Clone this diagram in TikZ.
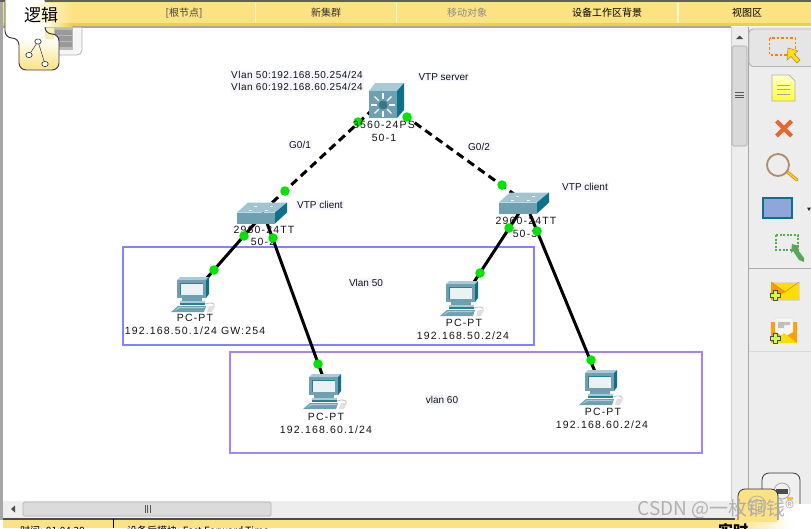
\documentclass[tikz,border=0pt]{standalone}
\usepackage{fontspec}
\setmainfont{Liberation Sans}
\newfontfamily\cjkf{Noto Sans CJK SC}
\newfontfamily\devf[LetterSpace=11]{Liberation Sans}
\newfontfamily\notef[LetterSpace=5]{Liberation Sans}
\usetikzlibrary{calc}
\definecolor{barY}{HTML}{FBE283}
\definecolor{barD}{HTML}{EFCF45}
\definecolor{teal1}{HTML}{6FA0B2}
\definecolor{teal2}{HTML}{0F7089}
\definecolor{teal3}{HTML}{A9CBD7}
\definecolor{panel}{HTML}{EDEDED}
\definecolor{lab}{HTML}{F6F7FE}
\definecolor{boxA}{HTML}{8282FF}
\definecolor{boxB}{HTML}{A484F8}
\definecolor{xorange}{HTML}{E9662C}
\tikzset{
 devlab/.style={font=\devf\fontsize{10.5}{12}\selectfont,inner sep=0pt,text=black!92},
 notelab/.style={font=\notef\fontsize{10}{12}\selectfont,inner sep=1pt,fill=lab,text=black!92},
 plainlab/.style={font=\fontsize{10}{12}\selectfont,inner sep=1pt,fill=lab,text=black!92},
 tablab/.style={font=\cjkf\fontsize{10}{12}\selectfont,inner sep=0pt},
 link/.style={line width=3pt,black},
 dashlink/.style={line width=3pt,black,dash pattern=on 8pt off 5pt},
 dot/.style={circle,fill=green!90!black,draw=none,inner sep=0pt,minimum size=9.5pt},
 vlanA/.style={draw=boxA,line width=1.4pt},
 vlanB/.style={draw=boxB,line width=1.4pt},
 pcicon/.pic={
  \fill[teal3] (0,3)--(3,0)--(32,0)--(29,3)--cycle;
  \fill[teal2] (29,3)--(32,0)--(32,17)--(29,21)--cycle;
  \fill[teal1] (0,3) rectangle (29,21);
  \fill[teal2!70!teal1] (3,6) rectangle (26,18);
  \fill[white!75!teal3] (4,7) rectangle (26,18);
  \fill[teal1] (5,21) rectangle (25,24);
  \fill[teal2!70!teal1] (3,24) rectangle (28,28);
  \fill[teal3] (3,24) rectangle (28,25.5);
  \fill[teal1] (-6,35)--(1,29)--(29,29)--(27,35)--cycle;
  \fill[teal3] (-3,34)--(2,30)--(28,30)--(26,31)--(3,31)--cycle;
  \draw[gray!50,line width=.8pt] (28,27) .. controls (34,25) and (38,26) .. (37,29);
  \fill[gray!25] (32,29)--(38,29)--(35,35)--(30,35)--cycle;
 },
 swicon/.pic={
  \fill[teal3!85!teal1] (0,10)--(11,0)--(50,0)--(38,10)--cycle;
  \fill[teal2] (38,10)--(50,0)--(50,10)--(38,21)--cycle;
  \fill[teal1] (0,10) rectangle (38,21);
  \foreach \a/\b in {17/3,33/3,12/7,28/7}{\fill[white] (\a,\b) rectangle ++(3,1);}
 },
 plusmark/.pic={
  \fill[green!30!yellow!70!white,draw=gray!60!black,line width=.5pt]
   (-1.8,-5)--(1.8,-5)--(1.8,-1.8)--(5,-1.8)--(5,1.8)--(1.8,1.8)--(1.8,5)--(-1.8,5)--(-1.8,1.8)--(-5,1.8)--(-5,-1.8)--(-1.8,-1.8)--cycle;
 },
}
\begin{document}
\begin{tikzpicture}[x=1pt,y=-1pt]
\useasboundingbox (0,0) rectangle (811,528);
\clip (0,0) rectangle (811,528);
\fill[white] (0,0) rectangle (811,528);
% window frame
\fill[gray!75!black] (0,0) rectangle (811,2);
\fill[gray!70] (0,2) rectangle (3,520);
\fill[gray!70] (3,26) rectangle (731,27.5);
% top bar
\fill[barY] (3,2) rectangle (811,23);
\fill[barD] (3,23) rectangle (811,26);
\foreach \x in {254.5,395.5,677}{\fill[white!70!barY] (\x,3) rectangle ++(1.5,20);}
\node[tablab,text=black!75] (root) at (184,13) {[根节点]};
\node[tablab,text=black!80] (cluster) at (326,13) {新集群};
\node[tablab,text=black!45] (move) at (467,13) {移动对象};
\node[tablab] (bg) at (607,13) {设备工作区背景};
\node[tablab] (view) at (747,13) {视图区};
% server tab behind
\fill[white!93!gray,draw=gray!60,line width=.8pt,rounded corners=5pt] (45,27.5) -- (45,55) -- (82,55) -- (82,27.5);
\fill[gray!55] (54,28) rectangle (73,50);
\foreach \y in {30,36,42}{\fill[gray!80] (55,\y) rectangle (72,\y+4.5);}
% logic tab
\fill[white,rounded corners=7pt] (5,-4) -- (5,38) -- (19,38) -- (19,70) -- (59,70) -- (59,34) -- (45,34) -- (45,-4) -- cycle;
\shade[top color=white,bottom color=barY,rounded corners=6pt] (19.5,38) rectangle (58.5,69.5);
\shade[top color=white!45!barY,bottom color=white!30!barY] (45.4,28) rectangle (54,38);
\shade[left color=white,right color=barY] (30,3) rectangle (72,23);
\shade[left color=white,right color=barD] (44,23) rectangle (72,26);
\fill[white] (6,2.5) rectangle (30,26);
\fill[white] (30,23) rectangle (44,38);
\draw[gray!40!black,line width=.9pt,rounded corners=7pt] (5,2) -- (5,38) -- (19,38) -- (19,70) -- (59,70) -- (59,34) -- (45,34) -- (45,27);
\node[font=\cjkf\fontsize{17}{18}\selectfont,inner sep=0pt] (logic) at (41,15.5) {逻辑};
\draw[gray!40!black,line width=.5pt] (38,41.5) -- (29,55) (38,41.5) -- (45,64);
\foreach \a/\b in {38/41.5,29/55,45/64}{\draw[gray!40!black,fill=white,line width=.6pt] (\a,\b) ellipse (3.2 and 2.6);}
% right panel
\fill[panel] (748,27) rectangle (811,520);
\draw[gray!70,line width=.8pt] (748,27) -- (748,518);
\fill[panel] (731,27) rectangle (748,501);
\draw[gray!40,line width=.5pt] (731,27) -- (731,501);
\draw[gray!70,fill=gray!30,rounded corners=1.5pt,line width=.6pt] (732,46) rectangle (747,146);
\foreach \y in {92.5,95,97.5}{\draw[gray!70!black,line width=.6pt] (735,\y) -- (744,\y);}
\fill[black!70] (736,39)--(743,39)--(739.5,35.5)--cycle;
% select tool
\fill[gray!20,draw=gray!60,line width=.9pt,rounded corners=4pt] (749,29) rectangle (816,66.5);
\draw[orange,line width=1.5pt,dash pattern=on 2.5pt off 2pt] (769.5,38) rectangle (795.5,55);
\fill[yellow!85!orange,draw=gray!60!orange,line width=.5pt] (788,48)--(787,60)--(791,56.5)--(797,63)--(800,60)--(794,54)--(798,51)--cycle;
% note
\shade[top color=yellow!20,bottom color=yellow!80,draw=gray!60,line width=.7pt] (772,75)--(789,75)--(795,81)--(795,101)--(772,101)--cycle;
\draw[gray!70,line width=.7pt] (777,85)--(790,85) (777,89.5)--(790,89.5) (777,94)--(790,94);
% delete
\draw[xorange,line width=4pt] (776.5,121)--(791.5,136) (791.5,121)--(776.5,136);
% inspect
\draw[orange!60!gray,line width=3pt,line cap=round] (785,170) -- (797,180);
\draw[yellow!70!orange,line width=1.6pt,line cap=round] (786,170.8) -- (797,180);
\draw[brown!60!gray!90,line width=1.8pt,fill=panel] (778,165) circle (11pt);
% rect
\fill[cyan!40!blue!45!white,draw=teal2,line width=1.4pt] (763,198) rectangle (792,218);
\fill[black!85] (807,207.5)--(811,207.5)--(809,211)--cycle;
% resize
\draw[green!40!gray,line width=1.2pt,dash pattern=on 2pt off 1.6pt] (776,235) rectangle (798,250);
\fill[green!30!gray] (792,244)--(799,246)--(798,250)--(804,258)--(804,262)--(799,260)--(793,251)--(791,253)--cycle;
\draw[gray!65,line width=.7pt] (749,268.5)--(811,268.5);
% envelopes
\fill[yellow!80!orange,draw=gray!30] (771,282) rectangle (799,300);
\fill[orange!80!yellow] (771,282)--(785,292)--(771,300)--cycle;
\draw[orange!70!gray,line width=.5pt] (771,282)--(785,292)--(799,282);
\pic at (775,295) {plusmark};
\fill[orange!75!yellow] (771,322) rectangle (797,343);
\fill[white!93!gray,draw=gray!40] (775,318)--(793,318)--(793,332)--(784,337)--(775,332)--cycle;
\fill[gray!50] (778,322) rectangle (790,325) (778,325) rectangle (784,328);
\fill[yellow!80!orange] (771,343)--(784,333)--(797,343)--cycle;
\pic at (775,338) {plusmark};
\draw[gray!30,line width=.6pt] (749,351.5)--(811,351.5);
% bottom scrollbar
\fill[panel] (3,501) rectangle (748,518);
\draw[gray!60,fill=gray!28,rounded corners=1.5pt,line width=.7pt] (23,502) rectangle (271,516);
\foreach \x in {145,147.5,150}{\draw[gray!70!black,line width=.6pt] (\x,505) -- (\x,513);}
\fill[black!70] (11,509)--(15,505.5)--(15,512.5)--cycle;
% status bar
\fill[gray!60!black] (3,518) rectangle (811,520);
\fill[barY] (3,520) rectangle (811,528);
\draw[black,line width=1pt] (113,519) -- (113,528);
\node[font=\cjkf\fontsize{10}{12}\selectfont,anchor=west,inner sep=0pt] (tm) at (20,531) {时间: 01:04:29};
\node[font=\cjkf\fontsize{10}{12}\selectfont,anchor=west,inner sep=0pt] (ff) at (127,531) {设备后模块: Fast Forward Time};
% right-bottom tabs
\fill[gray!12,draw=gray!40!black,line width=.8pt,rounded corners=7pt] (762,518)--(762,473)--(800,473)--(800,518);
\draw[gray!70,line width=.8pt] (782,491) circle (8pt);
\fill[gray!60!black] (776,489) rectangle (788,494);
\fill[yellow!60!orange] (787,497) rectangle (793,500);
\fill[white] (778,504) -- (811,504) -- (811,528) -- (778,528) -- cycle;
\shade[left color=barY,right color=white] (735,518) rectangle (790,528);
\fill[barY,draw=gray!40!black,line width=.8pt,rounded corners=7pt] (738,520)--(738,489)--(778,489)--(778,520);
\fill[barY] (739,515) rectangle (777,522);
\draw[gray!60,line width=.8pt] (757,505) circle (9pt);
\draw[gray!60,line width=.8pt] (757,505) circle (5.5pt);
\node[font=\cjkf\bfseries\fontsize{15}{16}\selectfont,inner sep=0pt,anchor=base] (rt) at (733,536) {实时};
% vlan boxes
\draw[vlanA] (123,247) rectangle (534,345);
\draw[vlanB] (230,352) rectangle (702,453);
% anchors for links
\coordinate (core) at (383,100);
\coordinate (swA) at (262,212);
\coordinate (swB) at (518,197);
\coordinate (pcA) at (206,279);
\coordinate (pcB) at (474,282);
\coordinate (pcC) at (326,385);
\coordinate (pcD) at (598,379);
\coordinate (swAa) at (264,213);
\coordinate (swAb) at (267,223);
\coordinate (swBa) at (519,213);
\coordinate (swBb) at (530,214);
% links
\draw[dashlink] (core) -- (swA);
\draw[dashlink] (core) -- (swB);
\draw[link] (swAa) -- (pcA);
\draw[link] (swAb) -- (pcC);
\draw[link] (swBa) -- (pcB);
\draw[link] (swBb) -- (pcD);
% devices
\pic at (237,202.5) {swicon};
\pic at (499,192.5) {swicon};
\pic at (177,277) {pcicon};
\pic at (446,281) {pcicon};
\pic at (309,374) {pcicon};
\pic at (585,370) {pcicon};
% core switch
\fill[teal3] (369,91)--(375,83)--(404,83)--(397,91)--cycle;
\fill[teal2] (397,91)--(404,83)--(404,110)--(397,118)--cycle;
\fill[teal1] (369,91) rectangle (397,118);
\foreach \t in {0,45,...,315}{\draw[white,line width=1.3pt] ($(383,105)+(\t:6)$) -- ($(383,105)+(\t:12)$);}
\fill[teal2!60!gray] (383,105) circle (4.5pt);
% dots
\node[dot] (d1) at (358,122) {};
\node[dot] (d2) at (407,117) {};
\node[dot] (d3) at (285,191) {};
\node[dot] (d4) at (502,185) {};
% labels
\node[notelab,align=left] (ips) at (297,81) {Vlan 50:192.168.50.254/24\\[0.6pt]Vlan 60:192.168.60.254/24};
\node[plainlab] (srv) at (443.5,77) {VTP server};
\node[devlab] (m1) at (384,125) {3560-24PS};
\node[devlab] (m2) at (384,138) {50-1};
\node[plainlab] (g1) at (300,145) {G0/1};
\node[plainlab] (g2) at (479,147) {G0/2};
\node[plainlab] (ca) at (320,205) {VTP client};
\node[plainlab] (cb) at (585,187) {VTP client};
\node[devlab] (sa1) at (264,230) {2960-24TT};
\node[devlab] (sa2) at (263,242) {50-2};
\node[devlab] (sb1) at (526,221) {2960-24TT};
\node[devlab] (sb2) at (525,234) {50-3};
\node[dot] (d5) at (244,236) {};
\node[dot] (d6) at (273,238) {};
\node[dot] (d7) at (214,270) {};
\node[dot] (d8) at (318,364) {};
\node[dot] (d9) at (509,228) {};
\node[dot] (d10) at (537,231) {};
\node[dot] (d11) at (480,273) {};
\node[dot] (d12) at (591,360) {};
\node[plainlab] (v50) at (366,283) {Vlan 50};
\node[plainlab] (v60) at (442,400) {vlan 60};
\node[devlab] (p1) at (195,318) {PC-PT};
\node[devlab] (p1i) at (195,331) {192.168.50.1/24 GW:254};
\node[devlab] (p2) at (464,323) {PC-PT};
\node[devlab] (p2i) at (463,336) {192.168.50.2/24};
\node[devlab] (p3) at (326,417) {PC-PT};
\node[devlab] (p3i) at (326,430) {192.168.60.1/24};
\node[devlab] (p4) at (603,412) {PC-PT};
\node[devlab] (p4i) at (602,425) {192.168.60.2/24};
% watermark
\node[font=\cjkf\fontsize{19}{20}\selectfont,text=gray!70,opacity=.85,inner sep=0pt] (wm) at (716,509) {CSDN @一枚铜钱®};
\end{tikzpicture}
\end{document}
